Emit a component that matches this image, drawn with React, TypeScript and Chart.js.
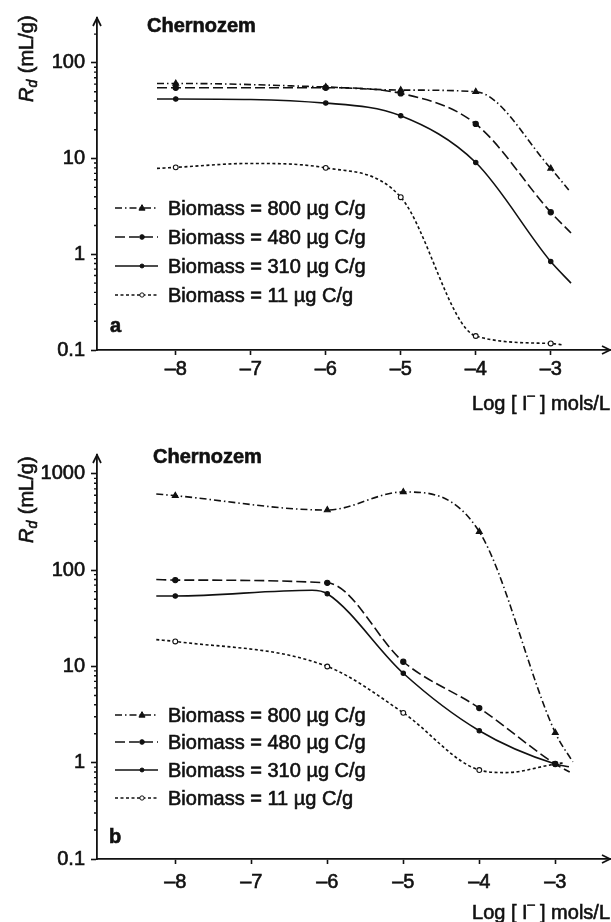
import React, { useEffect, useRef } from 'react';
import { Chart, registerables } from 'chart.js';
Chart.register(...registerables);

// ---------- data ----------
const markerLogI = [-8, -6, -5, -4, -3];
const xTickValues = [-8, -7, -6, -5, -4, -3];
const yTicksA = [0.1, 1, 10, 100];
const yTicksB = [0.1, 1, 10, 100, 1000];
const seriesLabels = [
  'Biomass = 800 \u00b5g C/g',
  'Biomass = 480 \u00b5g C/g',
  'Biomass = 310 \u00b5g C/g',
  'Biomass = 11 \u00b5g C/g',
];
const panelTitle = 'Chernozem';

// panel a (curve points; markers at markerLogI)
const a800X = [-8.25, -8, -6, -5, -4, -3, -2.76];
const a800Y = [61, 61, 56, 52, 50, 7.9, 4.7];
const a480X = [-8.25, -8, -6, -5, -4, -3, -2.73];
const a480Y = [55, 55, 55, 48, 23, 2.75, 1.67];
const a310X = [-8.25, -8, -6, -5, -4, -3, -2.73];
const a310Y = [42, 42, 38, 28, 9.1, 0.84, 0.5];
const a11X = [-8.25, -8, -7, -6, -5, -4, -3, -2.83];
const a11Y = [7.9, 8.1, 8.9, 8.0, 3.95, 0.14, 0.117, 0.113];

// panel b
const b800X = [-8.25, -8, -6, -5, -4, -3, -2.77];
const b800Y = [620, 595, 422, 650, 251, 2.05, 1.02];
const b480X = [-8.25, -8, -6, -5, -4, -3, -2.81];
const b480Y = [80, 79, 74, 11.2, 3.7, 0.97, 0.8];
const b310X = [-8.25, -8, -6.2, -6, -5, -4, -3, -2.82];
const b310Y = [54, 54, 62, 57, 8.5, 2.15, 0.97, 0.91];
const b11X = [-8.25, -8, -6, -5, -4, -3.65, -3, -2.88];
const b11Y = [19, 18.2, 10, 3.3, 0.84, 0.79, 0.97, 1.0];

// ---------- styles ----------
const INK = '#111';
const FONT = '"Liberation Sans", Arial, Helvetica, sans-serif';
const TEXT_STROKE = 0.6;
const seriesStyles = [
  { dash: [7, 3, 1.5, 3], point: 'triangle', r: 3.4, fill: INK },
  { dash: [10, 4], point: 'circle', r: 2.6, fill: INK },
  { dash: [], point: 'circle', r: 2.2, fill: INK },
  { dash: [3, 2.5], point: 'circle', r: 2.4, fill: '#fff' },
];

function makeDatasets(xsList: number[][], ysList: number[][]) {
  return xsList.map((xs, i) => {
    const st = seriesStyles[i];
    return {
      label: seriesLabels[i],
      data: xs.map((x, j) => ({ x, y: ysList[i][j] })),
      borderColor: INK,
      borderWidth: 1.6,
      borderDash: st.dash,
      cubicInterpolationMode: 'monotone',
      fill: false,
      pointStyle: st.point,
      pointRadius: (ctx: any) => (ctx.raw && markerLogI.includes(ctx.raw.x) ? st.r : 0),
      pointBackgroundColor: st.fill,
      pointBorderColor: INK,
      pointBorderWidth: 1.1,
    };
  });
}

function drawMarker(ctx: CanvasRenderingContext2D, kind: string, x: number, y: number, r: number, fill: string) {
  ctx.save();
  ctx.setLineDash([]);
  ctx.fillStyle = fill;
  ctx.strokeStyle = INK;
  ctx.lineWidth = 1;
  ctx.beginPath();
  if (kind === 'triangle') {
    ctx.moveTo(x, y - r * 1.1);
    ctx.lineTo(x + r, y + r * 0.7);
    ctx.lineTo(x - r, y + r * 0.7);
    ctx.closePath();
  } else {
    ctx.arc(x, y, r, 0, Math.PI * 2);
  }
  ctx.fill();
  ctx.stroke();
  ctx.restore();
}

function text(ctx: CanvasRenderingContext2D, s: string, x: number, y: number) {
  ctx.fillText(s, x, y);
  ctx.save();
  ctx.lineWidth = TEXT_STROKE;
  ctx.setLineDash([]);
  ctx.strokeText(s, x, y);
  ctx.restore();
}

type Decor = {
  titleX: number; titleY: number;
  letter: string; letterX: number; letterY: number;
  legendRows: number[];
  yTitleBottom: number;
  xTitleBaseline: number;
};

function decorPlugin(d: Decor) {
  return {
    id: 'decor',
    afterDraw(chart: any) {
      const ctx: CanvasRenderingContext2D = chart.ctx;
      const { left, right, top, bottom } = chart.chartArea;
      const ys = chart.scales.y;
      ctx.save();
      ctx.strokeStyle = INK;
      ctx.fillStyle = INK;
      ctx.lineWidth = 1.4;
      ctx.setLineDash([]);
      // minor ticks on y
      const decades = [0.1, 1, 10, 100, 1000];
      ctx.beginPath();
      decades.forEach((dv) => {
        for (let k = 2; k <= 9; k++) {
          const v = k * dv;
          if (v <= ys.max && v >= ys.min) {
            const py = ys.getPixelForValue(v);
            ctx.moveTo(left - 3, py);
            ctx.lineTo(left, py);
          }
        }
      });
      ctx.stroke();
      // arrows
      ctx.lineWidth = 1.7;
      ctx.beginPath();
      ctx.moveTo(left - 4, top + 8);
      ctx.lineTo(left, top);
      ctx.lineTo(left + 4, top + 8);
      ctx.moveTo(right - 8, bottom - 4);
      ctx.lineTo(right, bottom);
      ctx.lineTo(right - 8, bottom + 4);
      ctx.stroke();

      // title & panel letter
      ctx.textAlign = 'left';
      ctx.textBaseline = 'alphabetic';
      ctx.font = `bold 20px ${FONT}`;
      text(ctx, panelTitle, d.titleX, d.titleY);
      text(ctx, d.letter, d.letterX, d.letterY);

      // legend
      ctx.font = `20px ${FONT}`;
      d.legendRows.forEach((ry, i) => {
        const st = seriesStyles[i];
        ctx.save();
        ctx.lineWidth = 1.5;
        ctx.setLineDash(st.dash);
        ctx.beginPath();
        ctx.moveTo(115, ry);
        ctx.lineTo(158, ry);
        ctx.stroke();
        ctx.restore();
        drawMarker(ctx, st.point, 142, ry, st.r * 0.9, st.fill);
        ctx.fillStyle = INK;
        text(ctx, seriesLabels[i], 168, ry + 7);
      });

      // y title (rotated): R_d (mL/g)
      ctx.save();
      ctx.translate(33, d.yTitleBottom);
      ctx.rotate(-Math.PI / 2);
      ctx.font = `italic 20px ${FONT}`;
      text(ctx, 'R', 0, 0);
      let xx = ctx.measureText('R').width;
      ctx.font = `italic 14px ${FONT}`;
      text(ctx, 'd', xx, 4);
      xx += ctx.measureText('d').width + 1;
      ctx.font = `20px ${FONT}`;
      text(ctx, ' (mL/g)', xx, 0);
      ctx.restore();

      // x title: Log [ I⁻ ] mols/L (right aligned)
      ctx.font = `20px ${FONT}`;
      const p1 = 'Log [ I';
      const p3 = ' ] mols/L';
      const w1 = ctx.measureText(p1).width;
      const w3 = ctx.measureText(p3).width;
      ctx.font = `15px ${FONT}`;
      const w2 = ctx.measureText('\u2212').width;
      const total = w1 + w2 + w3 - 2;
      let sx = 610 - total;
      ctx.font = `20px ${FONT}`;
      text(ctx, p1, sx, d.xTitleBaseline);
      sx += w1 - 1;
      ctx.font = `15px ${FONT}`;
      text(ctx, '\u2212', sx, d.xTitleBaseline - 9);
      sx += w2 - 1;
      ctx.font = `20px ${FONT}`;
      text(ctx, p3, sx, d.xTitleBaseline);
      ctx.restore();
    },
  };
}

function makeConfig(opts: {
  datasets: any[]; xMin: number; xMax: number; yMax: number; yTicks: number[];
  padTop: number; padBottom: number; xAxisHeight: number; xTickPad: number; decor: Decor;
}) {
  return {
    type: 'line',
    data: { datasets: opts.datasets },
    options: {
      responsive: false,
      animation: false,
      devicePixelRatio: 1,
      layout: { padding: { top: opts.padTop, right: 1, bottom: opts.padBottom, left: 0 } },
      plugins: { legend: { display: false }, tooltip: { enabled: false } },
      scales: {
        x: {
          type: 'linear',
          min: opts.xMin,
          max: opts.xMax,
          afterBuildTicks: (s: any) => { s.ticks = xTickValues.map((v) => ({ value: v })); },
          afterFit: (s: any) => { s.height = opts.xAxisHeight; },
          ticks: {
            autoSkip: false,
            maxRotation: 0,
            padding: opts.xTickPad,
            color: INK,
            textStrokeColor: INK,
            textStrokeWidth: TEXT_STROKE,
            font: { family: FONT, size: 20 },
            callback: (v: any) => (v < 0 ? '\u2013' : '') + Math.abs(v),
          },
          grid: { drawOnChartArea: false, drawTicks: true, tickLength: 5, tickColor: INK, tickWidth: 1.6 },
          border: { display: true, color: INK, width: 1.8 },
        },
        y: {
          type: 'logarithmic',
          min: 0.1,
          max: opts.yMax,
          afterBuildTicks: (s: any) => { s.ticks = opts.yTicks.map((v) => ({ value: v })); },
          afterFit: (s: any) => { s.width = 97; },
          ticks: {
            padding: 6,
            color: INK,
            textStrokeColor: INK,
            textStrokeWidth: TEXT_STROKE,
            font: { family: FONT, size: 20 },
            callback: (v: any) => String(v),
          },
          grid: { drawOnChartArea: false, drawTicks: true, tickLength: 6, tickColor: INK, tickWidth: 1.6 },
          border: { display: true, color: INK, width: 1.8 },
        },
      },
    },
    plugins: [decorPlugin(opts.decor)],
  };
}

export default function App() {
  const refA = useRef<HTMLCanvasElement | null>(null);
  const refB = useRef<HTMLCanvasElement | null>(null);

  useEffect(() => {
    document.body.style.margin = '0';
    const chartA = new Chart(refA.current as HTMLCanvasElement, makeConfig({
      datasets: makeDatasets([a800X, a480X, a310X, a11X], [a800Y, a480Y, a310Y, a11Y]),
      xMin: -9.05, xMax: -2.21, yMax: Math.pow(10, 2.469), yTicks: yTicksA,
      padTop: 18, padBottom: 922 - 460, xAxisHeight: 110, xTickPad: 2,
      decor: {
        titleX: 147, titleY: 32, letter: 'a', letterX: 110, letterY: 332,
        legendRows: [208, 237, 266, 295], yTitleBottom: 102, xTitleBaseline: 410,
      },
    }) as any);
    const chartB = new Chart(refB.current as HTMLCanvasElement, makeConfig({
      datasets: makeDatasets([b800X, b480X, b310X, b11X], [b800Y, b480Y, b310Y, b11Y]),
      xMin: -9.03, xMax: -2.28, yMax: Math.pow(10, 3.197), yTicks: yTicksB,
      padTop: 455, padBottom: 0, xAxisHeight: 63, xTickPad: 6,
      decor: {
        titleX: 153, titleY: 463, letter: 'b', letterX: 109, letterY: 843,
        legendRows: [715, 742, 770, 798], yTitleBottom: 543, xTitleBaseline: 919,
      },
    }) as any);
    return () => { chartA.destroy(); chartB.destroy(); };
  }, []);

  const cs: React.CSSProperties = { position: 'absolute', left: 0, top: 0 };
  return (
    <div>
      <canvas ref={refA} width={611} height={922} style={cs} />
      <canvas ref={refB} width={611} height={922} style={cs} />
    </div>
  );
}
